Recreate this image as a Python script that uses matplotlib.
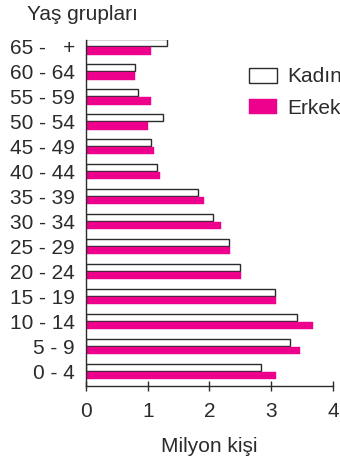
import numpy as np
import matplotlib.pyplot as plt

plt.rcParams['font.family'] = ['Liberation Sans', 'DejaVu Sans']

# Yaş grupları (aşağıdan yukarıya) ve milyon kişi cinsinden nüfus
yas_gruplari = ['0 - 4', '5 - 9', '10 - 14', '15 - 19', '20 - 24', '25 - 29',
                '30 - 34', '35 - 39', '40 - 44', '45 - 49', '50 - 54',
                '55 - 59', '60 - 64', '65 -   +']
kadin = [2.83, 3.30, 3.42, 3.06, 2.49, 2.32, 2.05, 1.82, 1.15, 1.05, 1.24,
         0.84, 0.79, 1.32]
erkek = [3.07, 3.47, 3.67, 3.07, 2.51, 2.33, 2.19, 1.91, 1.20, 1.10, 1.01,
         1.06, 0.80, 1.05]

metin = '#2b2b2b'
pembe = '#ec008c'

fig = plt.figure(figsize=(3.4, 4.59), dpi=100)
ax = fig.add_axes([0.2529, 0.159, 0.7265, 0.7547])

y = np.arange(len(yas_gruplari))
h = 0.28
bk = ax.barh(y + 0.16, kadin, height=h, color='white', edgecolor=metin,
             linewidth=1.0, label='Kadın')
be = ax.barh(y - 0.16, erkek, height=h + 0.02, color=pembe, edgecolor=pembe,
             linewidth=0.3, label='Erkek')

ax.set_xlim(0, 4)
ax.set_ylim(-0.58, 13.29)
ax.set_xticks([0, 1, 2, 3, 4])
ax.set_yticks(y)
ax.set_yticklabels(yas_gruplari)

for s in ['top', 'right']:
    ax.spines[s].set_visible(False)
for s in ['left', 'bottom']:
    ax.spines[s].set_color(metin)
    ax.spines[s].set_linewidth(1.0)

ax.tick_params(axis='y', length=0, pad=8, labelsize=15, labelcolor=metin)
ax.tick_params(axis='x', direction='inout', length=6.5, width=1.0, color=metin,
               pad=8.5, labelsize=15, labelcolor=metin)

ax.set_xlabel('Milyon kişi', fontsize=15, color=metin, labelpad=11)
fig.text(0.08, 0.968, 'Yaş grupları', fontsize=15, color=metin,
         ha='left', va='center')

ax.legend(handles=[bk, be], loc='upper left', bbox_to_anchor=(0.733, 0.853),
          bbox_transform=fig.transFigure, frameon=False, fontsize=15,
          handlelength=1.35, handleheight=0.75, handletextpad=0.48,
          labelspacing=0.6, borderpad=0, borderaxespad=0, labelcolor=metin)

fig.savefig('out.png', dpi=100)
